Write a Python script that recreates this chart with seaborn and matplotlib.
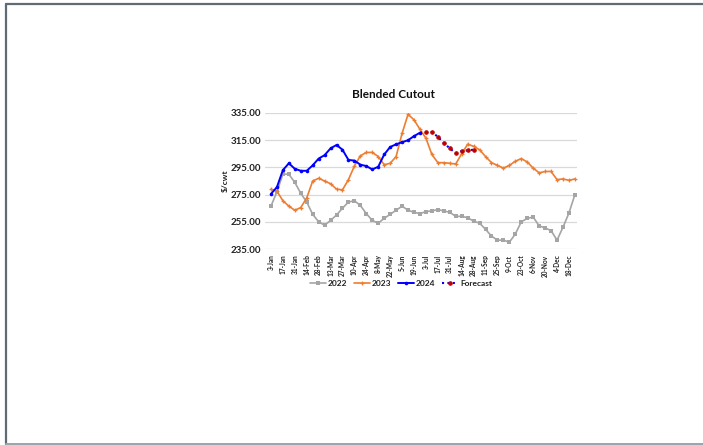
import matplotlib
matplotlib.use("Agg")
import matplotlib.pyplot as plt
from matplotlib.lines import Line2D
import numpy as np
import pandas as pd
import seaborn as sns

# Weekly categories (Monday of each week)
weeks = ["3-Jan", "10-Jan", "17-Jan", "24-Jan", "31-Jan",
         "7-Feb", "14-Feb", "21-Feb", "28-Feb",
         "6-Mar", "13-Mar", "20-Mar", "27-Mar",
         "3-Apr", "10-Apr", "17-Apr", "24-Apr",
         "1-May", "8-May", "15-May", "22-May", "29-May",
         "5-Jun", "12-Jun", "19-Jun", "26-Jun",
         "3-Jul", "10-Jul", "17-Jul", "24-Jul", "31-Jul",
         "7-Aug", "14-Aug", "21-Aug", "28-Aug",
         "4-Sep", "11-Sep", "18-Sep", "25-Sep",
         "2-Oct", "9-Oct", "16-Oct", "23-Oct", "30-Oct",
         "6-Nov", "13-Nov", "20-Nov", "27-Nov",
         "4-Dec", "11-Dec", "18-Dec", "25-Dec"]

# Blended cutout, $/cwt
y2022 = [266.5, 277.0, 290.0, 290.0, 284.0, 276.0, 269.5, 260.5, 255.0, 252.5,
         256.0, 260.0, 265.0, 269.5, 270.5, 267.0, 261.0, 256.0, 254.0, 257.5,
         260.5, 263.5, 266.5, 263.5, 262.0, 261.0, 262.5, 263.0, 264.0, 263.0,
         262.0, 259.0, 259.0, 258.0, 255.5, 254.0, 249.5, 244.5, 241.5, 241.5,
         240.0, 246.0, 255.0, 257.5, 258.5, 252.0, 250.5, 248.5, 241.5, 251.0,
         261.5, 275.0]
y2023 = [279.0, 277.5, 270.5, 266.5, 263.5, 265.5, 272.5, 285.0, 287.0, 285.0,
         283.0, 279.0, 278.5, 286.0, 296.0, 303.5, 306.0, 306.0, 303.0, 297.0,
         298.0, 303.0, 320.0, 334.0, 330.0, 323.0, 316.5, 304.5, 298.5, 298.5,
         298.0, 297.5, 305.0, 312.0, 310.5, 308.0, 303.0, 298.5, 296.5, 294.5,
         296.5, 299.5, 301.5, 299.0, 294.5, 291.0, 292.0, 292.0, 286.0, 286.5,
         285.5, 286.5]
y2024 = [275.5, 280.5, 293.0, 298.0, 294.0, 292.5, 292.5, 296.5, 301.5, 304.0,
         309.0, 311.5, 308.0, 300.5, 300.0, 297.0, 296.0, 293.5, 295.5, 304.5,
         310.0, 312.0, 313.5, 315.0, 318.0, 320.5]
forecast_start = 25
forecast = [320.5, 321.0, 321.0, 317.5, 313.0, 309.0, 305.5, 307.0, 307.5, 308.0]

idx = np.arange(len(weeks))
df22 = pd.DataFrame({"week": idx, "value": y2022})
df23 = pd.DataFrame({"week": idx, "value": y2023})
df24 = pd.DataFrame({"week": idx[:len(y2024)], "value": y2024})
dffc = pd.DataFrame({"week": idx[forecast_start:forecast_start + len(forecast)],
                     "value": forecast})

sns.set_theme(style="white")
plt.rcParams["font.family"] = ["Lato", "DejaVu Sans"]

W, H = 703, 445
fig = plt.figure(figsize=(W / 100, H / 100), dpi=100)
fig.patch.set_facecolor("white")

# Axes placed in pixel terms
x0, x1 = 265, 577
ytop, ybot = 113, 249
ax = fig.add_axes([x0 / W, 1 - ybot / H, (x1 - x0) / W, (ybot - ytop) / H])

lw = 1.2
sns.lineplot(data=df22, x="week", y="value", ax=ax, color="#a5a5a5", lw=lw,
             marker="s", markersize=2.6, markeredgewidth=0, label="2022")
sns.lineplot(data=df23, x="week", y="value", ax=ax, color="#ed7d31", lw=lw,
             marker="P", markersize=2.8, markeredgewidth=0, label="2023")
sns.lineplot(data=df24, x="week", y="value", ax=ax, color="#0000ff", lw=lw + 0.2,
             marker="o", markersize=2.6, markeredgewidth=0, label="2024")
sns.lineplot(data=dffc, x="week", y="value", ax=ax, color="#0000ff", lw=lw + 0.3,
             linestyle=(0, (1, 1.6)), marker="o", markersize=2.5,
             markerfacecolor="#c00000", markeredgecolor="#c00000",
             markevery=list(range(1, len(forecast))), label="Forecast")

ax.set_ylim(235, 335)
ax.set_yticks(np.arange(235, 336, 20))
ax.set_yticklabels([f"{v:.2f}" for v in np.arange(235, 336, 20)],
                   fontsize=7, fontweight="bold", color="#222222")
ax.set_xlim(-1.0, 51.35)
ax.set_xticks(idx[::2])
ax.set_xticklabels(weeks[::2], rotation=90, fontsize=4.7, fontweight="bold",
                   color="#222222")
ax.tick_params(axis="both", length=0, pad=3)
ax.tick_params(axis="x", pad=4)
ax.grid(axis="y", color="#d9d9d9", lw=0.9)
ax.grid(axis="x", visible=False)
for s in ax.spines.values():
    s.set_visible(False)
ax.set_xlabel("")
ax.set_ylabel("$/cwt", fontsize=6, fontweight="bold", color="#222222", labelpad=2)
ax.yaxis.set_label_coords(-0.115, 0.5)

fig.text(393 / W, 1 - 94 / H, "Blended Cutout", ha="center", va="center",
         fontsize=8.5, fontweight="bold", color="#111111")

leg = ax.legend(loc="center", bbox_to_anchor=(401 / W, 1 - 283 / H),
                bbox_transform=fig.transFigure, ncol=4, frameon=False,
                fontsize=6, handlelength=1.9, handletextpad=0.25,
                columnspacing=0.8, borderpad=0)
for t in leg.get_texts():
    t.set_fontweight("bold")
    t.set_color("#222222")

# Page frame
fig.add_artist(Line2D([6 / W, 1], [1 - 4 / H, 1 - 4 / H], color="#5f6b75",
                      lw=1.6, transform=fig.transFigure))
fig.add_artist(Line2D([6 / W, 6 / W], [1 - 4 / H, 1 / H], color="#5f6b75",
                      lw=1.6, transform=fig.transFigure))
fig.add_artist(Line2D([6 / W, 1], [1 / H, 1 / H], color="#9aa3aa",
                      lw=1.4, transform=fig.transFigure))

fig.savefig("out.png", dpi=100, facecolor="white")
